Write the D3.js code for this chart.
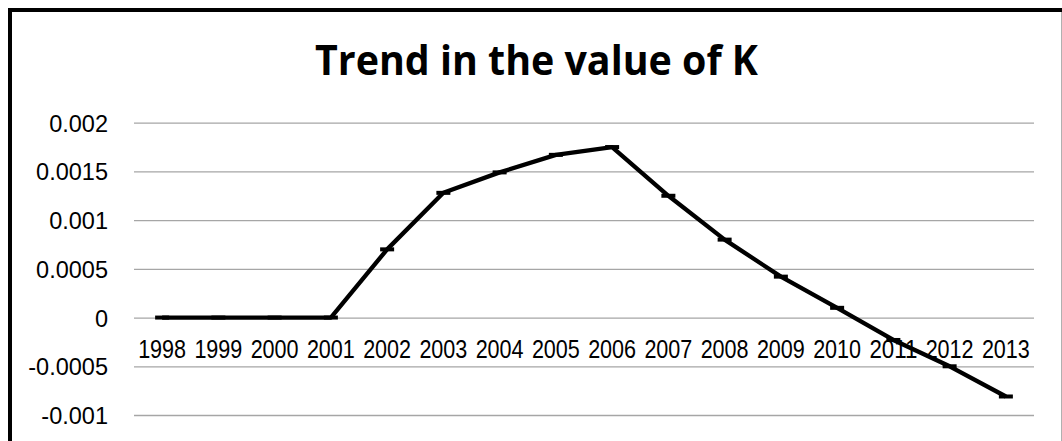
<!DOCTYPE html>
<html>
<head>
<meta charset="utf-8">
<script src="https://cdn.jsdelivr.net/npm/d3@7"></script>
<style>
  html, body { margin: 0; padding: 0; background: #fff; }
  svg { display: block; }
</style>
</head>
<body>
<svg id="chart" width="1062" height="441"></svg>
<script>
// Yearly values of K
const years = ["1998","1999","2000","2001","2002","2003","2004","2005","2006","2007","2008","2009","2010","2011","2012","2013"];
const kValues = [0, 0, 0, 0, 0.0007, 0.00128, 0.00149, 0.00167, 0.00175, 0.00125, 0.0008, 0.00042, 0.0001, -0.00023, -0.0005, -0.00081];
const yTicks = [-0.001, -0.0005, 0, 0.0005, 0.001, 0.0015, 0.002];
const yTickLabels = ["-0.001", "-0.0005", "0", "0.0005", "0.001", "0.0015", "0.002"];
const chartTitle = "Trend in the value of K";

const svg = d3.select("#chart");
const W = 1062, H = 441;
const plot = { left: 134, right: 1034, top: 122.7, bottom: 415 };

const x = d3.scaleBand().domain(years).range([plot.left, plot.right]).padding(0);
const y = d3.scaleLinear().domain([-0.001, 0.002]).range([plot.bottom, plot.top]);
const cx = d => x(d) + x.bandwidth() / 2;

// Chart frame
svg.append("line").attr("x1", 10).attr("x2", 1062).attr("y1", 10).attr("y2", 10)
  .attr("stroke", "#000").attr("stroke-width", 4);
svg.append("line").attr("x1", 10).attr("x2", 10).attr("y1", 8).attr("y2", H)
  .attr("stroke", "#000").attr("stroke-width", 4);
svg.append("line").attr("x1", 1061.5).attr("x2", 1061.5).attr("y1", 12).attr("y2", H)
  .attr("stroke", "#b0b0b0").attr("stroke-width", 1);

// Title
svg.append("text")
  .attr("x", 536.5).attr("y", 75)
  .attr("text-anchor", "middle")
  .attr("font-family", "'Open Sans', 'Liberation Sans', sans-serif")
  .attr("font-weight", 700)
  .attr("font-size", 42)
  .attr("textLength", 443)
  .attr("lengthAdjust", "spacingAndGlyphs")
  .attr("fill", "#000")
  .text(chartTitle);

// Horizontal gridlines + y labels via axis
const yAxis = d3.axisLeft(y)
  .tickValues(yTicks)
  .tickSize(-(plot.right - plot.left))
  .tickPadding(26)
  .tickFormat((d, i) => yTickLabels[i]);

const gy = svg.append("g")
  .attr("transform", `translate(${plot.left},0)`)
  .call(yAxis);
gy.select(".domain").remove();
gy.selectAll(".tick line").attr("stroke", "#a6a6a6").attr("stroke-width", 1.3);
gy.selectAll(".tick text")
  .attr("font-family", "'Liberation Sans', Arial, sans-serif")
  .attr("font-size", 23.5)
  .attr("fill", "#000")
  .attr("dy", "0.36em");

// Category labels sit just below the zero line
const gx = svg.append("g")
  .attr("transform", `translate(0,${y(0)})`)
  .call(d3.axisBottom(x).tickSize(0).tickPadding(0));
gx.select(".domain").remove();
gx.selectAll(".tick text")
  .attr("font-family", "'Liberation Sans', Arial, sans-serif")
  .attr("font-size", 25)
  .attr("fill", "#000")
  .attr("dy", 0)
  .attr("y", 40.5)
  .attr("textLength", 48)
  .attr("lengthAdjust", "spacingAndGlyphs");

// Series line
const line = d3.line().x((d, i) => cx(years[i])).y(d => y(d));
svg.append("path")
  .datum(kValues)
  .attr("fill", "none")
  .attr("stroke", "#000")
  .attr("stroke-width", 4.3)
  .attr("stroke-linejoin", "round")
  .attr("d", line);

// Dash markers
svg.append("g").selectAll("rect")
  .data(kValues)
  .join("rect")
  .attr("x", (d, i) => cx(years[i]) - 7)
  .attr("y", d => y(d) - 2)
  .attr("width", 14)
  .attr("height", 4)
  .attr("fill", "#000");
</script>
</body>
</html>
